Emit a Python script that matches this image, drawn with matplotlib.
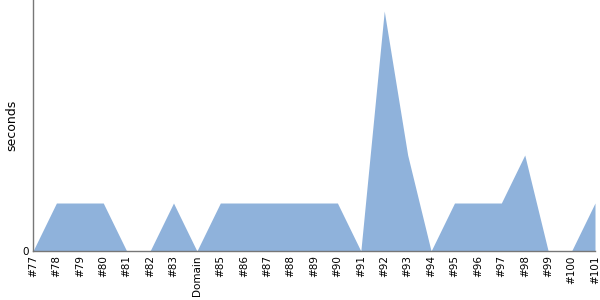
import matplotlib

matplotlib.use("Agg")
import matplotlib.pyplot as plt

labels = ["#77", "#78", "#79", "#80", "#81", "#82", "#83", "Domain", "#85", "#86",
          "#87", "#88", "#89", "#90", "#91", "#92", "#93", "#94", "#95", "#96",
          "#97", "#98", "#99", "#100", "#101"]
seconds = [0, 1, 1, 1, 0, 0, 1, 0, 1, 1,
           1, 1, 1, 1, 0, 5, 2, 0, 1, 1,
           1, 2, 0, 0, 1]

fig = plt.figure(figsize=(6, 3), dpi=100)
ax = fig.add_axes([33 / 600, 49 / 300, 562 / 600, 251 / 300])

x = range(len(labels))
ax.fill_between(x, seconds, 0, color="#8fb2db", linewidth=0)

ax.set_xlim(0, len(labels) - 1)
ax.set_ylim(0, 5.23)
ax.set_yticks([0])
ax.set_yticklabels(["0"], fontsize=7.5)
ax.set_xticks(list(x))
ax.set_xticklabels(labels, rotation=90, fontsize=7.5)
ax.tick_params(length=0, pad=3)
ax.set_ylabel("seconds", fontsize=9)
ax.yaxis.set_label_coords(-0.027, 0.5)

for side in ("top", "right"):
    ax.spines[side].set_visible(False)
for side in ("left", "bottom"):
    ax.spines[side].set_color("#777777")
    ax.spines[side].set_linewidth(1)

fig.savefig("out.png", dpi=100)
